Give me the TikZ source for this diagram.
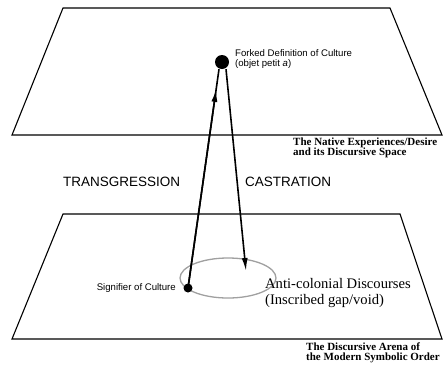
\documentclass[tikz,border=0pt]{standalone}
\usepackage{fontspec}
\setmainfont{Liberation Serif}
\setsansfont{Liberation Sans}
\usetikzlibrary{arrows.meta, positioning, shapes.geometric, calc}
\definecolor{void-gray}{RGB}{160,160,160}

\begin{document}
\begin{tikzpicture}[
  x=1pt, y=-1pt,
  >={Latex[length=13pt, width=6pt]},
  % Shape styles
  plane/.style     = {line width=1.1pt, line join=miter},
  dotnode/.style   = {circle, fill=black, inner sep=0pt},
  voidring/.style  = {ellipse, draw=void-gray, line width=1.3pt, inner sep=0pt},
  % Arrow styles
  linkarrow/.style = {line width=1.6pt},
  % Text styles
  smalllabel/.style = {font=\sffamily\fontsize{9.6}{10.5}\selectfont, inner sep=0pt, align=left},
  forcelabel/.style = {font=\sffamily\fontsize{13.5}{15}\selectfont, inner sep=0pt, anchor=west},
  planelabel/.style = {font=\bfseries\fontsize{11}{10.5}\selectfont, inner sep=0pt, align=left, anchor=west},
  voidlabel/.style  = {font=\fontsize{14.6}{16}\selectfont, inner sep=0pt, align=left, anchor=west},
]
\useasboundingbox (0,0) rectangle (444,370);

% ── Planes ─────────────────────────────────────────────────────────────────────

% native experiences (upper)
\draw[plane] (63,8) -- (390,8) -- (442,135) -- (12,135) -- cycle;

% symbolic order (lower)
\draw[plane] (63,214) -- (400,214) -- (442,339) -- (12,339) -- cycle;

% ── Nodes ──────────────────────────────────────────────────────────────────────

\node[voidring, minimum width=96pt, minimum height=40pt] (gap) at (228,278) {};

\node[dotnode, minimum size=14pt] (objet) at (222,62) {};
\node[dotnode, minimum size=9pt]  (signifier) at (188,288) {};

\coordinate (gaptip) at (246,271);

\node[smalllabel, anchor=west] (forked) at (235,59)
  {Forked Definition of Culture\\(objet petit \textit{a})};
\node[smalllabel, anchor=east] (siglabel) at (176,288) {Signifier of Culture};

\node[forcelabel] (transgression) at (63,182) {TRANSGRESSION};
\node[forcelabel] (castration) at (245,182) {CASTRATION};

\node[voidlabel] (anticolonial) at (265,293)
  {Anti-colonial Discourses\\(Inscribed gap/void)};

\node[planelabel] (native) at (293,148)
  {The Native Experiences/Desire\\and its Discursive Space};
\node[planelabel] (arena) at (306,353)
  {The Discursive Arena of\\the Modern Symbolic Order};

% ── Arrows ─────────────────────────────────────────────────────────────────────

% signifier -> objet (transgression)
\draw[linkarrow] (signifier.center) -- ([xshift=-3pt]objet.south);
\draw[linkarrow, ->] (signifier.center)
  -- ($(signifier.center)!0.91!([xshift=-3pt]objet.south)$);

% objet -> gap (castration)
\draw[linkarrow, ->] ([xshift=4pt]objet.south) -- (gaptip);

\end{tikzpicture}
\end{document}
